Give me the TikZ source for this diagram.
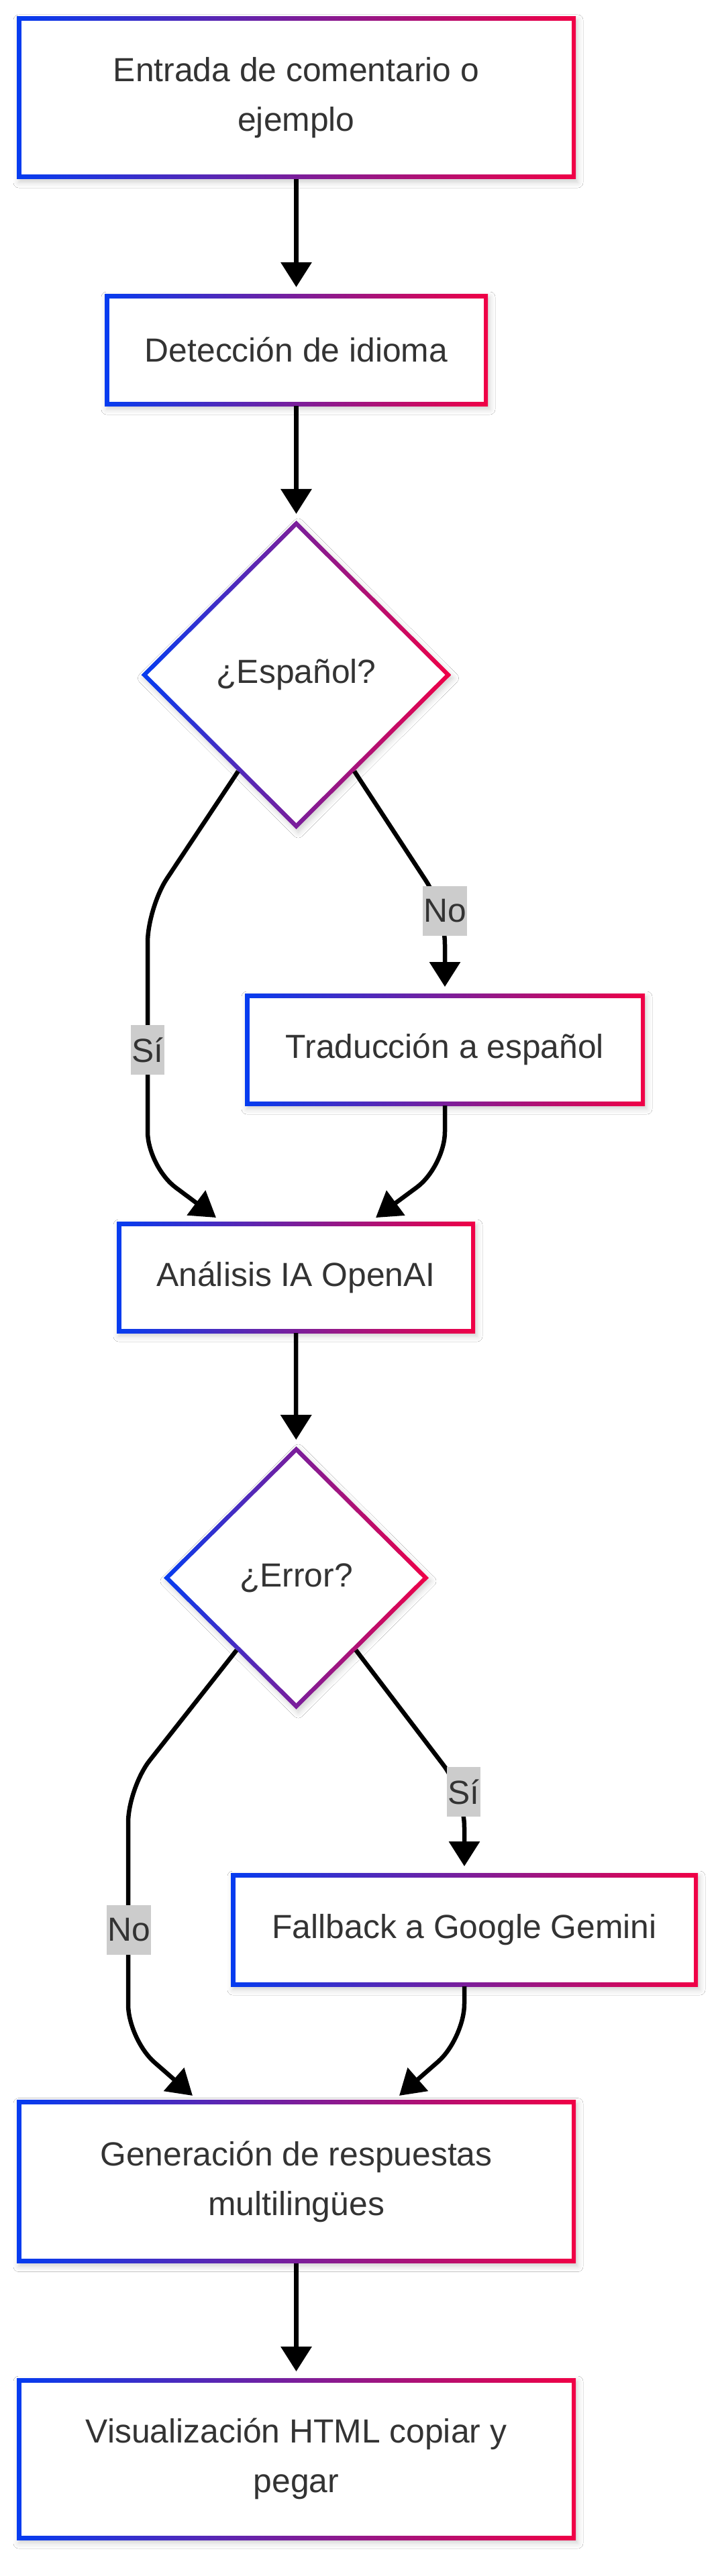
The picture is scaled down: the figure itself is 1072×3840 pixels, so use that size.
\documentclass[tikz,border=0pt]{standalone}
\usepackage{fontspec}
\setmainfont{Liberation Sans}
\usetikzlibrary{arrows.meta,shapes.geometric,shadows.blur,calc}
\definecolor{gblue}{HTML}{053CF0}
\definecolor{gred}{HTML}{F00046}
\definecolor{txt}{HTML}{333333}
\definecolor{lblbg}{HTML}{CCCCCC}
\tikzset{
  nodefont/.style={font=\fontsize{49.8}{74}\selectfont},
  gshadow/.style={blur shadow={shadow xshift=3pt, shadow yshift=-5pt, shadow blur radius=8pt, shadow opacity=18}},
  gbox/.style={rectangle, inner sep=0pt, outer sep=0pt, left color=gblue, right color=gred,
    text=txt, align=center, nodefont, gshadow,
    path picture={\fill[white] ([shift={(6.5pt,6.5pt)}]path picture bounding box.south west) rectangle ([shift={(-6.5pt,-6.5pt)}]path picture bounding box.north east);}},
  gdia/.style={diamond, inner sep=0pt, outer sep=0pt, left color=gblue, right color=gred,
    text=txt, align=center, nodefont, gshadow,
    path picture={\fill[white] ([yshift=-9.2pt]path picture bounding box.north) -- ([xshift=-9.2pt]path picture bounding box.east) -- ([yshift=9.2pt]path picture bounding box.south) -- ([xshift=9.2pt]path picture bounding box.west) -- cycle;}},
  conn/.style={line width=6.5pt, draw=black, -{Triangle[length=37pt,width=45pt]}, shorten >=10pt, rounded corners=52pt},
  lbl/.style={fill=lblbg, text=txt, font=\fontsize{49.8}{60}\selectfont, inner xsep=1.5pt, inner ysep=0pt, minimum height=74pt},
}
\begin{document}
\begin{tikzpicture}[x=1pt,y=-1pt]
\fill[white] (0,0) rectangle (1072,3840);
\useasboundingbox (0,0) rectangle (1072,3840);

\node[gbox, minimum width=833pt, minimum height=242pt] (n1) at (441.5,146) {Entrada de comentario o\\ejemplo};
\node[gbox, minimum width=571pt, minimum height=167pt] (n2) at (441.5,521.5) {Detección de idioma};
\node[gdia, minimum width=462pt, minimum height=460pt] (d1) at (441.5,1006) {¿Español?};
\node[gbox, minimum width=596pt, minimum height=167pt] (tr) at (663,1564.5) {Traducción a español};
\node[gbox, minimum width=534pt, minimum height=166pt] (an) at (441,1904) {Análisis IA OpenAI};
\node[gdia, minimum width=395pt, minimum height=392pt] (d2) at (441.5,2352) {¿Error?};
\node[gbox, minimum width=696pt, minimum height=169pt] (fb) at (692,2876.5) {Fallback a Google Gemini};
\node[gbox, minimum width=833pt, minimum height=243pt] (gen) at (441.5,3252) {Generación de respuestas\\multilingües};
\node[gbox, minimum width=833pt, minimum height=241pt] (vis) at (441.5,3665.5) {Visualización HTML copiar y\\pegar};

\coordinate (b1) at (220,1353);
\coordinate (b2) at (220,1739);
\coordinate (b3) at (663,1356);
\coordinate (b4) at (663,1739);
\coordinate (b5) at (191,2665);
\coordinate (b6) at (191,3040);
\coordinate (b7) at (692,2672);
\coordinate (b8) at (692,3039);

\draw[conn] (n1) -- (n2);
\draw[conn] (n2) -- (d1);
\draw[conn] ($(d1.south west)!0.25!(d1.south)$) -- (b1) -- (b2) -- ([xshift=-111pt]an.north);
\draw[conn] ($(d1.south east)!0.25!(d1.south)$) -- (b3) -- (tr.north);
\draw[conn] (tr.south) -- (b4) -- ([xshift=111pt]an.north);
\draw[conn] (an) -- (d2);
\draw[conn] ($(d2.south west)!0.1!(d2.south)$) -- (b5) -- (b6) -- ([xshift=-147pt]gen.north);
\draw[conn] ($(d2.south east)!0.1!(d2.south)$) -- (b7) -- (fb.north);
\draw[conn] (fb.south) -- (b8) -- ([xshift=146pt]gen.north);
\draw[conn] (gen) -- (vis);

\node[lbl] (l1) at (663,1358) {No};
\node[lbl] (l2) at (220,1565) {Sí};
\node[lbl] (l3) at (691,2671) {Sí};
\node[lbl] (l4) at (192,2877) {No};
\end{tikzpicture}
\end{document}
